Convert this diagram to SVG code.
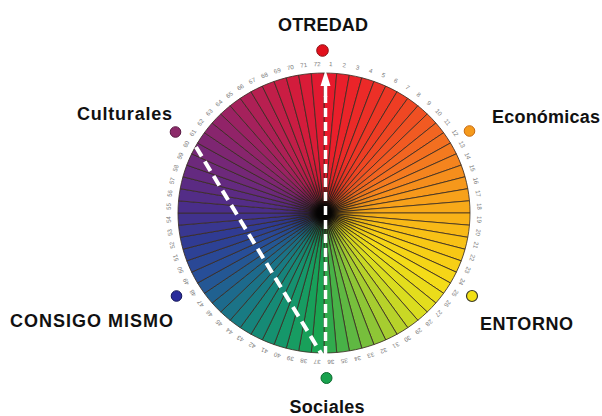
<svg xmlns="http://www.w3.org/2000/svg" xmlns:xlink="http://www.w3.org/1999/xlink" width="602" height="416" viewBox="0 0 602 416">
<style>
.lbl{font-family:"Liberation Sans",Arial,sans-serif;font-weight:bold;font-size:18px;fill:#111}
.num{font-family:"Liberation Sans",Arial,sans-serif;font-size:6px;fill:#7a7a7a;stroke:none;text-anchor:middle}
.dash{fill:none;stroke:#fff;stroke-linecap:butt}
</style>
<defs>
<path id="w" d="M0 0 L0 -140 A140 140 0 0 1 12.2 -139.47 Z"/>
<radialGradient id="dark" cx="0" cy="0" r="140" gradientUnits="userSpaceOnUse">
<stop offset="0" stop-color="#000" stop-opacity="1"/>
<stop offset="0.05" stop-color="#000" stop-opacity="0.9"/>
<stop offset="0.11" stop-color="#000" stop-opacity="0.35"/>
<stop offset="0.25" stop-color="#000" stop-opacity="0.06"/>
<stop offset="0.4" stop-color="#000" stop-opacity="0"/>
</radialGradient>
</defs>
<rect width="602" height="416" fill="#fff"/>
<g id="wheel" transform="translate(324 213) scale(1.043 1)">
<g stroke="#3a2c22" stroke-width="0.75" stroke-linejoin="round">
<use href="#w" fill="#e8192c" transform="rotate(0)"/>
<use href="#w" fill="#e91f2b" transform="rotate(5)"/>
<use href="#w" fill="#ea2429" transform="rotate(10)"/>
<use href="#w" fill="#eb2a28" transform="rotate(15)"/>
<use href="#w" fill="#ec3027" transform="rotate(20)"/>
<use href="#w" fill="#ed3725" transform="rotate(25)"/>
<use href="#w" fill="#ee3d24" transform="rotate(30)"/>
<use href="#w" fill="#ef4723" transform="rotate(35)"/>
<use href="#w" fill="#f05023" transform="rotate(40)"/>
<use href="#w" fill="#f15a22" transform="rotate(45)"/>
<use href="#w" fill="#f26521" transform="rotate(50)"/>
<use href="#w" fill="#f36f20" transform="rotate(55)"/>
<use href="#w" fill="#f47a1f" transform="rotate(60)"/>
<use href="#w" fill="#f5841e" transform="rotate(65)"/>
<use href="#w" fill="#f58e1c" transform="rotate(70)"/>
<use href="#w" fill="#f6981b" transform="rotate(75)"/>
<use href="#w" fill="#f7a11a" transform="rotate(80)"/>
<use href="#w" fill="#f7a919" transform="rotate(85)"/>
<use href="#w" fill="#f8b218" transform="rotate(90)"/>
<use href="#w" fill="#f8b917" transform="rotate(95)"/>
<use href="#w" fill="#f8c116" transform="rotate(100)"/>
<use href="#w" fill="#f8c815" transform="rotate(105)"/>
<use href="#w" fill="#f7cf16" transform="rotate(110)"/>
<use href="#w" fill="#f5d517" transform="rotate(115)"/>
<use href="#w" fill="#f4dc18" transform="rotate(120)"/>
<use href="#w" fill="#ebdc1a" transform="rotate(125)"/>
<use href="#w" fill="#e3dd1d" transform="rotate(130)"/>
<use href="#w" fill="#dadd1f" transform="rotate(135)"/>
<use href="#w" fill="#c9d825" transform="rotate(140)"/>
<use href="#w" fill="#b7d22a" transform="rotate(145)"/>
<use href="#w" fill="#a6cd30" transform="rotate(150)"/>
<use href="#w" fill="#8ec636" transform="rotate(155)"/>
<use href="#w" fill="#77bf3c" transform="rotate(160)"/>
<use href="#w" fill="#5fb842" transform="rotate(165)"/>
<use href="#w" fill="#48b247" transform="rotate(170)"/>
<use href="#w" fill="#31ab4d" transform="rotate(175)"/>
<use href="#w" fill="#1aa552" transform="rotate(180)"/>
<use href="#w" fill="#18a05a" transform="rotate(185)"/>
<use href="#w" fill="#179c62" transform="rotate(190)"/>
<use href="#w" fill="#15976a" transform="rotate(195)"/>
<use href="#w" fill="#159170" transform="rotate(200)"/>
<use href="#w" fill="#168a76" transform="rotate(205)"/>
<use href="#w" fill="#16847c" transform="rotate(210)"/>
<use href="#w" fill="#187b83" transform="rotate(215)"/>
<use href="#w" fill="#1b7387" transform="rotate(220)"/>
<use href="#w" fill="#1d6a8c" transform="rotate(225)"/>
<use href="#w" fill="#206190" transform="rotate(230)"/>
<use href="#w" fill="#245794" transform="rotate(235)"/>
<use href="#w" fill="#274e98" transform="rotate(240)"/>
<use href="#w" fill="#2a4896" transform="rotate(245)"/>
<use href="#w" fill="#2d4195" transform="rotate(250)"/>
<use href="#w" fill="#303b93" transform="rotate(255)"/>
<use href="#w" fill="#393790" transform="rotate(260)"/>
<use href="#w" fill="#41328d" transform="rotate(265)"/>
<use href="#w" fill="#4a2e8a" transform="rotate(270)"/>
<use href="#w" fill="#532d87" transform="rotate(275)"/>
<use href="#w" fill="#5b2b83" transform="rotate(280)"/>
<use href="#w" fill="#642a80" transform="rotate(285)"/>
<use href="#w" fill="#6d297b" transform="rotate(290)"/>
<use href="#w" fill="#752777" transform="rotate(295)"/>
<use href="#w" fill="#7e2672" transform="rotate(300)"/>
<use href="#w" fill="#88256d" transform="rotate(305)"/>
<use href="#w" fill="#912368" transform="rotate(310)"/>
<use href="#w" fill="#9b2263" transform="rotate(315)"/>
<use href="#w" fill="#a5215c" transform="rotate(320)"/>
<use href="#w" fill="#ae2056" transform="rotate(325)"/>
<use href="#w" fill="#b81f50" transform="rotate(330)"/>
<use href="#w" fill="#c11e49" transform="rotate(335)"/>
<use href="#w" fill="#ca1d43" transform="rotate(340)"/>
<use href="#w" fill="#d31c3c" transform="rotate(345)"/>
<use href="#w" fill="#da1b37" transform="rotate(350)"/>
<use href="#w" fill="#e11a31" transform="rotate(355)"/>
</g>
<circle r="140" fill="url(#dark)"/>
<g class="num">
<text y="-147" transform="rotate(2.5)">1</text><text y="-147" transform="rotate(7.5)">2</text><text y="-147" transform="rotate(12.5)">3</text><text y="-147" transform="rotate(17.5)">4</text><text y="-147" transform="rotate(22.5)">5</text><text y="-147" transform="rotate(27.5)">6</text><text y="-147" transform="rotate(32.5)">7</text><text y="-147" transform="rotate(37.5)">8</text><text y="-147" transform="rotate(42.5)">9</text><text y="-147" transform="rotate(47.5)">10</text><text y="-147" transform="rotate(52.5)">11</text><text y="-147" transform="rotate(57.5)">12</text>
<text y="-147" transform="rotate(62.5)">13</text><text y="-147" transform="rotate(67.5)">14</text><text y="-147" transform="rotate(72.5)">15</text><text y="-147" transform="rotate(77.5)">16</text><text y="-147" transform="rotate(82.5)">17</text><text y="-147" transform="rotate(87.5)">18</text><text y="-147" transform="rotate(92.5)">19</text><text y="-147" transform="rotate(97.5)">20</text><text y="-147" transform="rotate(102.5)">21</text><text y="-147" transform="rotate(107.5)">22</text><text y="-147" transform="rotate(112.5)">23</text><text y="-147" transform="rotate(117.5)">24</text>
<text y="-147" transform="rotate(122.5)">25</text><text y="-147" transform="rotate(127.5)">26</text><text y="-147" transform="rotate(132.5)">27</text><text y="-147" transform="rotate(137.5)">28</text><text y="-147" transform="rotate(142.5)">29</text><text y="-147" transform="rotate(147.5)">30</text><text y="-147" transform="rotate(152.5)">31</text><text y="-147" transform="rotate(157.5)">32</text><text y="-147" transform="rotate(162.5)">33</text><text y="-147" transform="rotate(167.5)">34</text><text y="-147" transform="rotate(172.5)">35</text><text y="-147" transform="rotate(177.5)">36</text>
<text y="-147" transform="rotate(182.5)">37</text><text y="-147" transform="rotate(187.5)">38</text><text y="-147" transform="rotate(192.5)">39</text><text y="-147" transform="rotate(197.5)">40</text><text y="-147" transform="rotate(202.5)">41</text><text y="-147" transform="rotate(207.5)">42</text><text y="-147" transform="rotate(212.5)">43</text><text y="-147" transform="rotate(217.5)">44</text><text y="-147" transform="rotate(222.5)">45</text><text y="-147" transform="rotate(227.5)">46</text><text y="-147" transform="rotate(232.5)">47</text><text y="-147" transform="rotate(237.5)">48</text>
<text y="-147" transform="rotate(242.5)">49</text><text y="-147" transform="rotate(247.5)">50</text><text y="-147" transform="rotate(252.5)">51</text><text y="-147" transform="rotate(257.5)">52</text><text y="-147" transform="rotate(262.5)">53</text><text y="-147" transform="rotate(267.5)">54</text><text y="-147" transform="rotate(272.5)">55</text><text y="-147" transform="rotate(277.5)">56</text><text y="-147" transform="rotate(282.5)">57</text><text y="-147" transform="rotate(287.5)">58</text><text y="-147" transform="rotate(292.5)">59</text><text y="-147" transform="rotate(297.5)">60</text>
<text y="-147" transform="rotate(302.5)">61</text><text y="-147" transform="rotate(307.5)">62</text><text y="-147" transform="rotate(312.5)">63</text><text y="-147" transform="rotate(317.5)">64</text><text y="-147" transform="rotate(322.5)">65</text><text y="-147" transform="rotate(327.5)">66</text><text y="-147" transform="rotate(332.5)">67</text><text y="-147" transform="rotate(337.5)">68</text><text y="-147" transform="rotate(342.5)">69</text><text y="-147" transform="rotate(347.5)">70</text><text y="-147" transform="rotate(352.5)">71</text><text y="-147" transform="rotate(357.5)">72</text>
</g>
</g>
<g id="connectors">
<line class="dash" x1="196" y1="147" x2="322" y2="355" stroke-width="4" stroke-dasharray="11 6"/>
<line class="dash" x1="325.5" y1="355" x2="325.5" y2="96" stroke-width="3.5" stroke-dasharray="9 5"/>
<line class="dash" x1="325.5" y1="97" x2="325.5" y2="84" stroke-width="3.5"/>
<polygon points="325.5,70 320.5,86 330.5,86" fill="#fff"/>
</g>
<g id="otredad">
<circle cx="322.5" cy="50.5" r="5.8" fill="#e2101c" stroke="#8c0f12" stroke-width="1"/>
<text class="lbl" x="323" y="30.5" text-anchor="middle" textLength="90">OTREDAD</text>
</g>
<g id="culturales">
<circle cx="175.5" cy="132" r="5.3" fill="#8c2a6a" stroke="#5a1a44" stroke-width="1"/>
<text class="lbl" x="77" y="120" textLength="95">Culturales</text>
</g>
<g id="economicas">
<circle cx="469.5" cy="131" r="5.3" fill="#f59a1c" stroke="#c86a10" stroke-width="1"/>
<text class="lbl" x="492" y="123" textLength="108">Económicas</text>
</g>
<g id="consigo">
<circle cx="176.5" cy="296" r="5.3" fill="#2a2c9c" stroke="#16185a" stroke-width="1"/>
<text class="lbl" x="10" y="327" textLength="163">CONSIGO MISMO</text>
</g>
<g id="entorno">
<circle cx="472" cy="296" r="5.5" fill="#f2e014" stroke="#3a3a2a" stroke-width="1.2"/>
<text class="lbl" x="480" y="330" textLength="93">ENTORNO</text>
</g>
<g id="sociales">
<circle cx="326.5" cy="378" r="5.5" fill="#19a24e" stroke="#0e6a30" stroke-width="1"/>
<text class="lbl" x="327" y="412.5" text-anchor="middle" textLength="75">Sociales</text>
</g>
</svg>
